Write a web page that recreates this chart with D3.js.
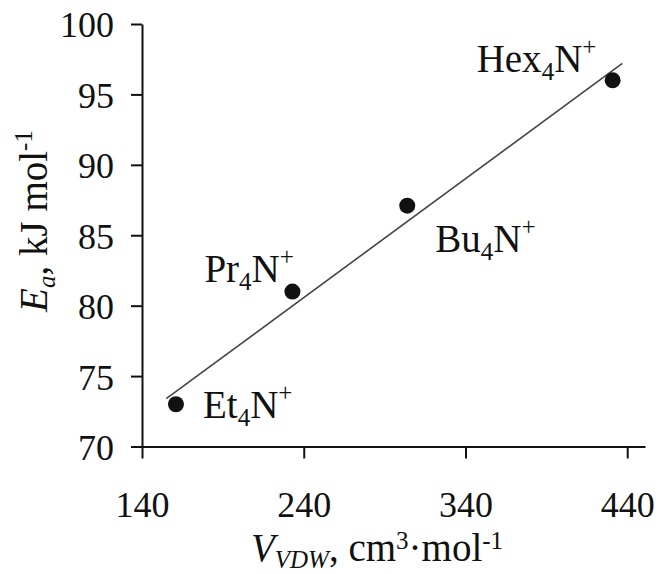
<!DOCTYPE html>
<html>
<head>
<meta charset="utf-8">
<script src="https://cdn.jsdelivr.net/npm/d3@7"></script>
<style>
  html, body { margin: 0; padding: 0; background: #fff; }
  svg { display: block; }
  text { font-family: "Liberation Serif", "Times New Roman", serif; fill: #111; }
</style>
</head>
<body>
<svg id="chart" width="659" height="574"></svg>
<script>
// ---- data ----
const ionBase = ["Et", "Pr", "Bu", "Hex"];          // cation alkyl group
const vdwVolume = [161, 233, 304, 431];             // V_VDW, cm3/mol
const activationEnergy = [73, 81, 87.1, 96];        // Ea, kJ/mol
const fitLineX = [155, 437];                        // fitted line endpoints (x)
const fitLineY = [73.4, 97.2];                      // fitted line endpoints (y)
const xTickValues = [140, 240, 340, 440];
const yTickValues = [70, 75, 80, 85, 90, 95, 100];

// ---- layout ----
const svg = d3.select("#chart");
const x = d3.scaleLinear().domain([140, 451]).range([142, 645]);
const y = d3.scaleLinear().domain([70, 100]).range([446.5, 24]);
const TFS = 36;   // tick font size
const FS = 39;    // label font size
const SFS = 25;   // sub/superscript size

// axes
const xAxis = d3.axisBottom(x).tickValues(xTickValues).tickSize(12).tickSizeOuter(0);
const yAxis = d3.axisLeft(y).tickValues(yTickValues).tickSize(11).tickSizeOuter(0).tickPadding(17);

const gx = svg.append("g").attr("transform", `translate(0,${y(70)})`).call(xAxis);
const gy = svg.append("g").attr("transform", `translate(${x(140)},0)`).call(yAxis);
[gx, gy].forEach(g => {
  g.select(".domain").attr("stroke", "#111").attr("stroke-width", 2);
  g.selectAll(".tick line").attr("stroke", "#111").attr("stroke-width", 2);
  g.selectAll(".tick text").style("font-family", '"Liberation Serif", serif')
    .style("font-size", TFS + "px").attr("fill", "#111");
});
gx.selectAll(".tick text").attr("y", 70).attr("dy", 0);
gy.selectAll(".tick text").attr("dy", "0.36em");

// fit line
svg.append("line")
  .attr("x1", x(fitLineX[0])).attr("y1", y(fitLineY[0]))
  .attr("x2", x(fitLineX[1])).attr("y2", y(fitLineY[1]))
  .attr("stroke", "#444").attr("stroke-width", 1.6);

// points
const pts = ionBase.map((n, i) => ({ name: n, v: vdwVolume[i], e: activationEnergy[i] }));
svg.selectAll("circle.pt").data(pts).enter().append("circle")
  .attr("class", "pt")
  .attr("cx", d => x(d.v)).attr("cy", d => y(d.e)).attr("r", 8)
  .attr("fill", "#111");

// labels (offsets relative to points)
const labelOffset = [[27, 14], [-88, -10], [28, 46], [-136, -8]];
pts.forEach((d, i) => {
  const t = svg.append("text")
    .attr("x", x(d.v) + labelOffset[i][0])
    .attr("y", y(d.e) + labelOffset[i][1])
    .style("font-size", FS + "px");
  t.append("tspan").text(d.name);
  t.append("tspan").text("4").style("font-size", SFS + "px").attr("dy", 8);
  t.append("tspan").text("N").attr("dy", -8);
  t.append("tspan").text("+").style("font-size", SFS + "px").attr("dy", -17);
});

// x title
const xt = svg.append("text").attr("x", 377).attr("y", 561)
  .attr("text-anchor", "middle").style("font-size", FS + "px");
xt.append("tspan").text("V").style("font-style", "italic");
xt.append("tspan").text("VDW").style("font-style", "italic").style("font-size", SFS + "px").attr("dy", 7);
xt.append("tspan").text(", cm").attr("dy", -7);
xt.append("tspan").text("3").style("font-size", SFS + "px").attr("dy", -12);
xt.append("tspan").text("·mol").attr("dy", 12);
xt.append("tspan").text("-1").style("font-size", SFS + "px").attr("dy", -12);

// y title
const yt = svg.append("text")
  .attr("transform", `translate(47,221) rotate(-90)`)
  .attr("text-anchor", "middle").style("font-size", FS + "px");
yt.append("tspan").text("E").style("font-style", "italic");
yt.append("tspan").text("a").style("font-style", "italic").style("font-size", SFS + "px").attr("dy", 8);
yt.append("tspan").text(", kJ mol").attr("dy", -8);
yt.append("tspan").text("-1").style("font-size", SFS + "px").attr("dy", -15);
</script>
</body>
</html>
